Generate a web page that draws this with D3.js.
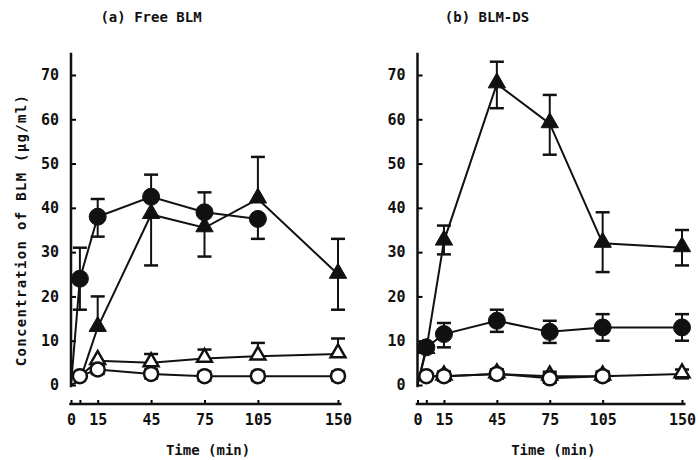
<!DOCTYPE html>
<html>
<head>
<meta charset="utf-8">
<script src="https://cdn.jsdelivr.net/npm/d3@7"></script>
<style>
  body { margin: 0; background: #fff; }
  text { font-family: "DejaVu Sans Mono", monospace; fill: #111; font-weight: bold; }
</style>
</head>
<body>
<div id="vis"></div>
<script>
// sampling times (min)
const TIMES = [0, 5, 15, 45, 75, 105, 150];
const X_TICKS = [0, 5, 15, 45, 75, 105, 150];
const X_LABELS = [0, 15, 45, 75, 105, 150];
const Y_TICKS = [0, 10, 20, 30, 40, 50, 60, 70];

// (a) Free BLM
const A_FILLED_CIRCLE    = [0, 24, 38, 42.5, 39, 37.5, null];
const A_FILLED_CIRCLE_UP = [0, 7, 4, 5, 4.5, 0, 0];
const A_FILLED_CIRCLE_DN = [0, 7, 4.5, 0, 0, 4.5, 0];
const A_FILLED_TRI       = [0, 1, 13, 38.5, 35.5, 42, 25];
const A_FILLED_TRI_UP    = [0, 0, 7, 0, 0, 9.5, 8];
const A_FILLED_TRI_DN    = [0, 0, 0, 11.5, 6.5, 0, 8];
const A_OPEN_TRI         = [null, 2, 5.5, 5, 6, 6.5, 7];
const A_OPEN_TRI_UP      = [0, 0, 0, 2, 2, 3, 3.5];
const A_OPEN_TRI_DN      = [0, 0, 0, 0, 0, 0, 0];
const A_OPEN_CIRCLE      = [null, 2, 3.5, 2.5, 2, 2, 2];
const A_OPEN_CIRCLE_UP   = [0, 0, 1, 1, 1, 1, 1];
const A_OPEN_CIRCLE_DN   = [0, 0, 1, 1, 1, 1, 1];

// (b) BLM-DS
const B_FILLED_CIRCLE    = [0, 8.5, 11.5, 14.5, 12, 13, 13];
const B_FILLED_CIRCLE_UP = [0, 0, 2.5, 2.5, 2.5, 3, 3];
const B_FILLED_CIRCLE_DN = [0, 0, 3, 2.5, 2.5, 3, 3];
const B_FILLED_TRI       = [0, 8, 32.5, 68, 59, 32, 31];
const B_FILLED_TRI_UP    = [0, 0, 3.5, 5, 6.5, 7, 4];
const B_FILLED_TRI_DN    = [0, 0, 3, 5.5, 7, 6.5, 4];
const B_OPEN_TRI         = [null, 2, 2, 2.5, 2, 2, 2.5];
const B_OPEN_TRI_UP      = [0, 0, 1, 1, 1, 1, 1];
const B_OPEN_TRI_DN      = [0, 0, 1, 1, 1, 1, 1];
const B_OPEN_CIRCLE      = [null, 2, 2, 2.5, 1.5, 2, null];
const B_OPEN_CIRCLE_UP   = [0, 0, 1, 1, 1, 1, 0];
const B_OPEN_CIRCLE_DN   = [0, 0, 1, 1, 1, 1, 0];

// set constants
const FRAME_WIDTH = 698;
const FRAME_HEIGHT = 460;
const Y_ZERO = 385;
const Y_TOP = 75;   // position of 70
const AXIS_Y = 404;

const FRAME = d3.select("#vis")
                .append("svg")
                  .attr("width", FRAME_WIDTH)
                  .attr("height", FRAME_HEIGHT);

// build one series from its arrays
function series(kind, vals, up, dn, hideAt) {
  return TIMES.map((t, i) => ({t: t, v: vals[i], up: up[i], dn: dn[i],
                               mark: t > 0 && !(hideAt || []).includes(t)}))
              .filter(d => d.v !== null)
              .map(d => Object.assign(d, {kind: kind}));
}

function drawPanel(title, titleX, x0, x150, data) {
  const X_SCALE = d3.scaleLinear().domain([0, 150]).range([x0, x150]);
  const Y_SCALE = d3.scaleLinear().domain([0, 70]).range([Y_ZERO, Y_TOP]);
  const g = FRAME.append("g");

  // title
  g.append("text")
    .attr("x", titleX)
    .attr("y", 22)
    .attr("text-anchor", "middle")
    .attr("font-size", "14px")
    .text(title);

  // y axis
  const yAxis = g.append("g")
    .attr("transform", "translate(" + x0 + ",0)")
    .call(d3.axisLeft(Y_SCALE).tickValues(Y_TICKS).tickSize(-5).tickPadding(12));
  yAxis.select(".domain").remove();
  yAxis.selectAll("line").attr("stroke-width", 2);
  yAxis.selectAll("text").attr("font-size", "15px").attr("font-family", "DejaVu Sans Mono");
  g.append("line")
    .attr("x1", x0).attr("x2", x0)
    .attr("y1", Y_SCALE(-0.5)).attr("y2", Y_SCALE(75))
    .attr("stroke", "#111").attr("stroke-width", 2.5);

  // x axis
  const xAxis = g.append("g")
    .attr("transform", "translate(0," + AXIS_Y + ")")
    .call(d3.axisBottom(X_SCALE).tickValues(X_TICKS).tickSize(-4).tickPadding(10)
            .tickFormat(d => X_LABELS.includes(d) ? d : ""));
  xAxis.select(".domain").remove();
  xAxis.selectAll("line").attr("stroke-width", 2);
  xAxis.selectAll("text").attr("font-size", "15px").attr("font-family", "DejaVu Sans Mono");
  g.append("line")
    .attr("x1", X_SCALE(-1)).attr("x2", X_SCALE(152))
    .attr("y1", AXIS_Y).attr("y2", AXIS_Y)
    .attr("stroke", "#111").attr("stroke-width", 2.5);

  g.append("text")
    .attr("x", X_SCALE(77))
    .attr("y", 455)
    .attr("text-anchor", "middle")
    .attr("font-size", "14px")
    .text("Time (min)");

  const line = d3.line().x(d => X_SCALE(d.t)).y(d => Y_SCALE(d.v));

  data.forEach(s => {
    // connecting line
    g.append("path")
      .datum(s)
      .attr("d", line)
      .attr("fill", "none")
      .attr("stroke", "#111")
      .attr("stroke-width", 2);

    // error bars
    const bars = s.filter(d => d.mark);
    bars.forEach(d => {
      const cx = X_SCALE(d.t);
      [[d.up, 1], [d.dn, -1]].forEach(([e, k]) => {
        if (!e) return;
        const ye = Y_SCALE(d.v + k * e);
        g.append("line").attr("x1", cx).attr("x2", cx)
          .attr("y1", Y_SCALE(d.v)).attr("y2", ye)
          .attr("stroke", "#111").attr("stroke-width", 2);
        g.append("line").attr("x1", cx - 7).attr("x2", cx + 7)
          .attr("y1", ye).attr("y2", ye)
          .attr("stroke", "#111").attr("stroke-width", 2.5);
      });
    });

    // markers
    const marks = g.selectAll(null).data(bars).enter();
    const kind = s[0].kind;
    if (kind === "circle" || kind === "opencircle") {
      marks.append("circle")
        .attr("cx", d => X_SCALE(d.t))
        .attr("cy", d => Y_SCALE(d.v))
        .attr("r", kind === "circle" ? 8.5 : 7)
        .attr("fill", kind === "circle" ? "#111" : "#fff")
        .attr("stroke", "#111")
        .attr("stroke-width", kind === "circle" ? 1 : 2.5);
    } else {
      marks.append("path")
        .attr("transform", d => "translate(" + X_SCALE(d.t) + "," + (Y_SCALE(d.v) - 1) + ")")
        .attr("d", d3.symbol().type(d3.symbolTriangle).size(kind === "tri" ? 130 : 95))
        .attr("fill", kind === "tri" ? "#111" : "#fff")
        .attr("stroke", "#111")
        .attr("stroke-width", kind === "tri" ? 1 : 2.5);
    }
  });
}

drawPanel("(a) Free BLM", 151, 71, 338, [
  series("tri", A_FILLED_TRI, A_FILLED_TRI_UP, A_FILLED_TRI_DN, [5]),
  series("circle", A_FILLED_CIRCLE, A_FILLED_CIRCLE_UP, A_FILLED_CIRCLE_DN),
  series("opentri", A_OPEN_TRI, A_OPEN_TRI_UP, A_OPEN_TRI_DN, [5]),
  series("opencircle", A_OPEN_CIRCLE, A_OPEN_CIRCLE_UP, A_OPEN_CIRCLE_DN)
]);

drawPanel("(b) BLM-DS", 487, 417.5, 682, [
  series("tri", B_FILLED_TRI, B_FILLED_TRI_UP, B_FILLED_TRI_DN),
  series("circle", B_FILLED_CIRCLE, B_FILLED_CIRCLE_UP, B_FILLED_CIRCLE_DN),
  series("opentri", B_OPEN_TRI, B_OPEN_TRI_UP, B_OPEN_TRI_DN, [5]),
  series("opencircle", B_OPEN_CIRCLE, B_OPEN_CIRCLE_UP, B_OPEN_CIRCLE_DN)
]);

// shared y axis title
FRAME.append("text")
  .attr("transform", "translate(26,230) rotate(-90)")
  .attr("text-anchor", "middle")
  .attr("font-size", "14px")
  .attr("letter-spacing", "1.3px")
  .text("Concentration of BLM (\u03bcg/ml)");
</script>
</body>
</html>
